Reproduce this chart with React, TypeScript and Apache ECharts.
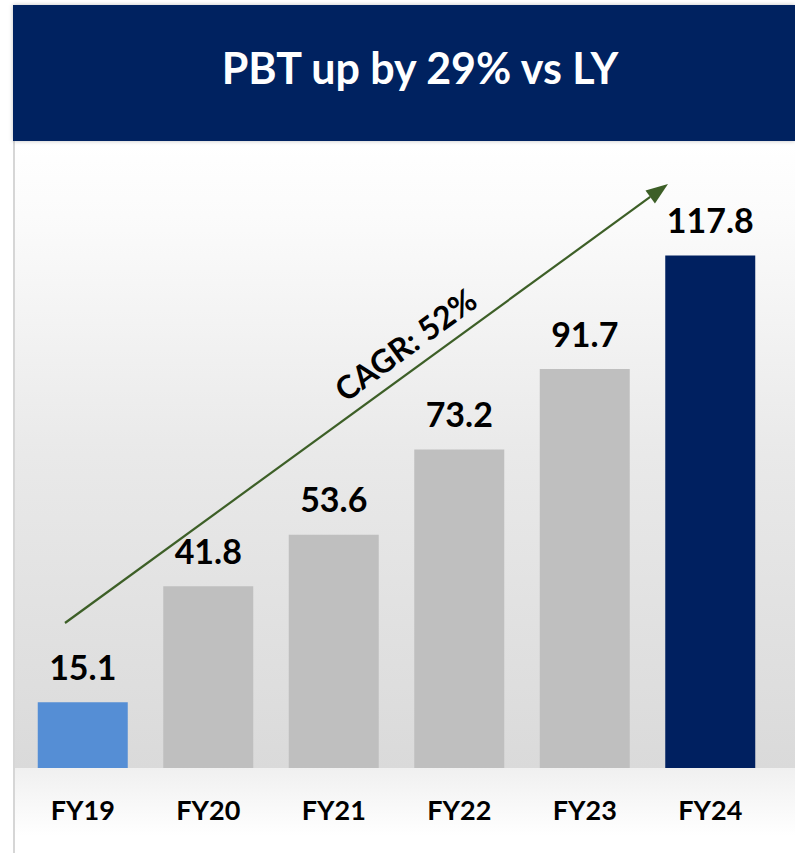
import React, { useEffect, useRef } from "react";
import * as echarts from "echarts";

const categories = ["FY19", "FY20", "FY21", "FY22", "FY23", "FY24"];
const pbtValues = [15.1, 41.8, 53.6, 73.2, 91.7, 117.8];
const barColors = ["#558ED5", "#BFBFBF", "#BFBFBF", "#BFBFBF", "#BFBFBF", "#002060"];
const titleText = "PBT up by 29% vs LY";
const cagrText = "CAGR: 52%";

const FONT = "Lato, 'Open Sans', sans-serif";

export default function App() {
  const ref = useRef<HTMLDivElement>(null);
  useEffect(() => {
    if (!ref.current) return;
    const chart = echarts.init(ref.current, null, { renderer: "svg" });
    const ang = Math.atan2(623 - 184, 668 - 65);
    const hx = 668, hy = 184;
    const L = 22, W = 8;
    const bx = hx - L * Math.cos(ang), by = hy + L * Math.sin(ang);
    const px = Math.sin(ang) * W, py = Math.cos(ang) * W;
    chart.setOption({
      animation: false,
      backgroundColor: "#ffffff",
      grid: { left: 20, right: 22, top: 159, bottom: 85 },
      xAxis: {
        type: "category",
        data: categories,
        axisLine: { show: false },
        axisTick: { show: false },
        axisLabel: {
          color: "#000",
          fontFamily: FONT,
          fontWeight: "bold",
          fontSize: 27,
          margin: 28,
        },
      },
      yAxis: {
        type: "value",
        min: 0,
        max: 140,
        show: false,
        splitLine: { show: false },
      },
      graphic: [
        {
          type: "rect",
          z: -10,
          shape: { x: 13, y: 141, width: 782, height: 627 },
          style: {
            fill: new echarts.graphic.LinearGradient(0, 0, 0, 1, [
              { offset: 0, color: "#ffffff" },
              { offset: 0.12, color: "#fbfbfb" },
              { offset: 0.5, color: "#e9e9e9" },
              { offset: 1, color: "#dadada" },
            ]),
          },
        },
        {
          type: "rect",
          z: -10,
          shape: { x: 13, y: 768, width: 782, height: 85 },
          style: {
            fill: new echarts.graphic.LinearGradient(0, 0, 0, 1, [
              { offset: 0, color: "#f0f0f0" },
              { offset: 0.8, color: "#ffffff" },
              { offset: 1, color: "#ffffff" },
            ]),
          },
        },
        {
          type: "line",
          z: -5,
          shape: { x1: 14, y1: 141, x2: 14, y2: 853 },
          style: { stroke: "#d6d6d6", lineWidth: 2 },
        },
        {
          type: "rect",
          shape: { x: 13, y: 5, width: 782, height: 136 },
          style: { fill: "#002060", shadowBlur: 4, shadowColor: "rgba(0,0,0,0.25)" },
        },
        {
          type: "text",
          x: 420,
          y: 67,
          style: {
            text: titleText,
            fill: "#ffffff",
            font: `bold 43px ${FONT}`,
            align: "center",
            verticalAlign: "middle",
          },
        },
        {
          type: "line",
          z: 10,
          shape: { x1: 65, y1: 623, x2: bx, y2: by },
          style: { stroke: "#3D5F27", lineWidth: 2.2 },
        },
        {
          type: "polygon",
          z: 10,
          shape: {
            points: [
              [hx, hy],
              [bx + px, by + py],
              [bx - px, by - py],
            ],
          },
          style: { fill: "#3D5F27" },
        },
        {
          type: "text",
          z: 10,
          x: 405,
          y: 344,
          rotation: ang,
          style: {
            text: cagrText,
            fill: "#000",
            font: `bold 32px ${FONT}`,
            align: "center",
            verticalAlign: "middle",
          },
        },
      ],
      series: [
        {
          type: "bar",
          barWidth: 90,
          data: pbtValues.map((v, i) => ({ value: v, itemStyle: { color: barColors[i] } })),
          label: {
            show: true,
            position: "top",
            distance: 19,
            color: "#000",
            fontFamily: FONT,
            fontWeight: "bold",
            fontSize: 34,
          },
        },
      ],
    });
    return () => chart.dispose();
  }, []);
  return (
    <div
      ref={ref}
      style={{ position: "fixed", left: 0, top: 0, width: 795, height: 853 }}
    />
  );
}
